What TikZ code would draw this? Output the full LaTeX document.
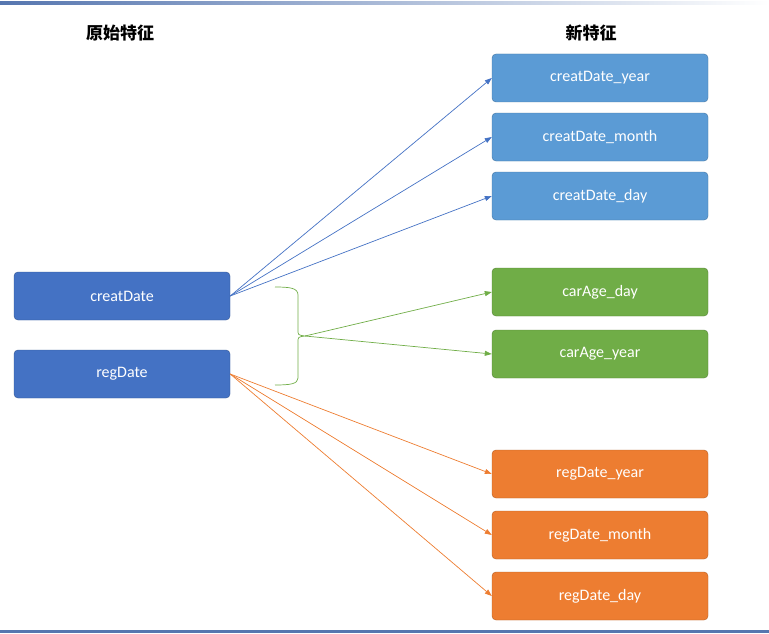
\documentclass[tikz,border=0pt]{standalone}
\usepackage{fontspec}
\setmainfont{Carlito}
\newfontfamily\cjk{Noto Sans CJK SC}
\usetikzlibrary{arrows.meta}
\usetikzlibrary{calc}

\definecolor{leftblue}{HTML}{4472C4}
\definecolor{newblue}{HTML}{5B9BD5}
\definecolor{newgreen}{HTML}{70AD47}
\definecolor{neworange}{HTML}{ED7D31}

\tikzset{
  feat/.style={draw=#1!75!black, fill=#1, rounded corners=4pt, text=white,
    minimum width=216pt, minimum height=48pt, font=\fontsize{16}{18}\selectfont, inner sep=0pt},
  head/.style={font=\cjk\bfseries\fontsize{17}{20}\selectfont},
  link/.style={draw=#1, -{Triangle[length=7pt,width=5pt]}, line width=0.7pt}
}

\begin{document}
\begin{tikzpicture}[x=1pt,y=-1pt]
  \useasboundingbox (0,0) rectangle (769,634);
  \shade[left color=leftblue!70!gray, right color=white] (0,2) rectangle (769,5);
  \fill[leftblue!70!gray] (0,630) rectangle (769,633);

  \node[head] (hold) at (120,33) {原始特征};
  \node[head] (hnew) at (591,33) {新特征};

  \node[feat=leftblue] (creat) at (122,296) {creatDate};
  \node[feat=leftblue] (reg) at (122,374) {regDate};

  \node[feat=newblue] (cyear) at (600,78) {creatDate\_year};
  \node[feat=newblue] (cmonth) at (600,137) {creatDate\_month};
  \node[feat=newblue] (cday) at (600,196) {creatDate\_day};
  \node[feat=newgreen] (aday) at (600,292) {carAge\_day};
  \node[feat=newgreen] (ayear) at (600,354) {carAge\_year};
  \node[feat=neworange] (ryear) at (600,474) {regDate\_year};
  \node[feat=neworange] (rmonth) at (600,535) {regDate\_month};
  \node[feat=neworange] (rday) at (600,596) {regDate\_day};

  % brace joining both dates
  \coordinate (tip) at (305,336);
  \draw[newgreen, line width=0.7pt] (275,287) .. controls (290,287) and (298,288) .. (298,295)
    -- (298,330) .. controls (298,335) .. (tip)
    .. controls (298,337) .. (298,342) -- (298,378)
    .. controls (298,384) and (290,385) .. (275,385);

  \foreach \t in {cyear,cmonth,cday}
    \draw[link=leftblue] (creat.east) -- (\t.west);
  \foreach \t in {aday,ayear}
    \draw[link=newgreen] (tip) -- (\t.west);
  \foreach \t in {ryear,rmonth,rday}
    \draw[link=neworange] (reg.east) -- (\t.west);
\end{tikzpicture}
\end{document}
